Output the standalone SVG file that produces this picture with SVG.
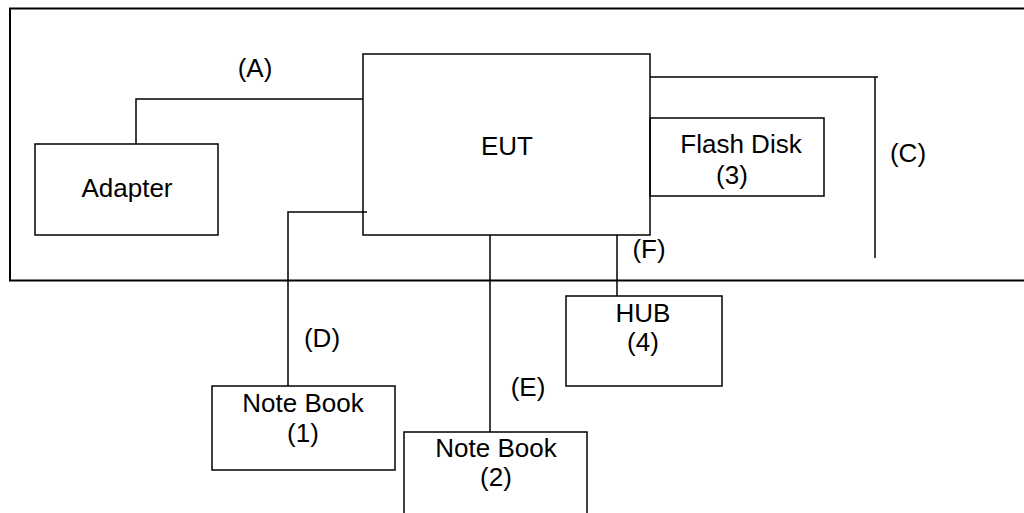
<svg xmlns="http://www.w3.org/2000/svg" width="1024" height="513" viewBox="0 0 1024 513">
<style>
.box{fill:none;stroke:#000;stroke-width:1.5}
.wire{fill:none;stroke:#000;stroke-width:1.5}
text{font-family:"Liberation Sans",Arial,sans-serif;font-size:26px;fill:#000;text-anchor:middle}
</style>
<rect width="1024" height="513" fill="#fff"/>
<g id="frame"><rect class="box" x="10" y="8.5" width="1030" height="272" style="stroke-width:2"/></g>
<g id="connectors">
<polyline class="wire" points="136,144 136,99 363,99"/>
<polyline class="wire" points="650,77 878,77"/>
<line class="wire" x1="875" y1="77" x2="875" y2="258"/>
<polyline class="wire" points="367,212 288,212 288,386"/>
<line class="wire" x1="490" y1="235" x2="490" y2="432"/>
<line class="wire" x1="617" y1="235" x2="617" y2="296"/>
<text x="255" y="77">(A)</text>
<text x="908" y="162">(C)</text>
<text x="322" y="347">(D)</text>
<text x="528" y="396">(E)</text>
<text x="649" y="258">(F)</text>
</g>
<g id="eut"><rect class="box" x="363" y="54" width="287" height="181"/><text x="507" y="155">EUT</text></g>
<g id="adapter"><rect class="box" x="35" y="144" width="183" height="91"/><text x="127" y="197">Adapter</text></g>
<g id="flashdisk"><rect class="box" x="650" y="118" width="174" height="78"/><text x="741" y="153">Flash Disk</text><text x="732" y="184">(3)</text></g>
<g id="notebook1"><rect class="box" x="212" y="386" width="183" height="84"/><text x="303" y="412">Note Book</text><text x="303" y="442">(1)</text></g>
<g id="notebook2"><rect class="box" x="404" y="432" width="183" height="90"/><text x="496" y="457">Note Book</text><text x="496" y="486">(2)</text></g>
<g id="hub"><rect class="box" x="566" y="296" width="156" height="90"/><text x="643" y="322">HUB</text><text x="643" y="351">(4)</text></g>
</svg>
